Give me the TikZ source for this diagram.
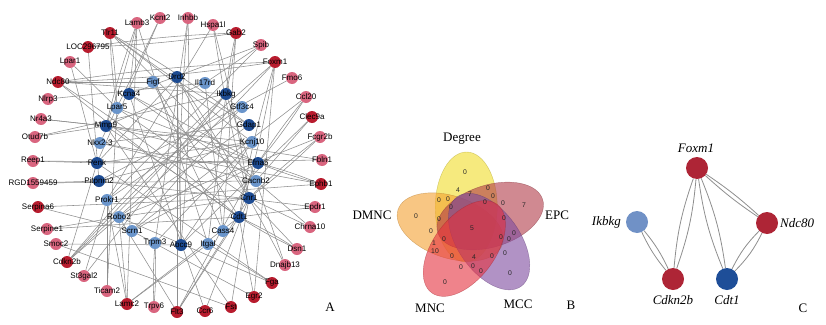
\documentclass[tikz,border=0pt]{standalone}
\usepackage{fontspec}
\setmainfont{Liberation Serif}
\newfontfamily\arialf{Liberation Sans}
\usetikzlibrary{backgrounds}
\definecolor{dred}{HTML}{B81C2E}
\definecolor{pinkn}{HTML}{D9657F}
\definecolor{dblue}{HTML}{1D4B92}
\definecolor{lblue}{HTML}{6A95CB}
\definecolor{edgegray}{HTML}{8E8E8E}
\definecolor{vyel}{HTML}{F0DC28}
\definecolor{vora}{HTML}{F4A030}
\definecolor{vepc}{HTML}{B03A48}
\definecolor{vmcc}{HTML}{7D4A9E}
\definecolor{vmnc}{HTML}{E5313E}
\definecolor{cred}{HTML}{AE2536}
\definecolor{cdblue}{HTML}{1E4E98}
\definecolor{clblue}{HTML}{7091C6}
\tikzset{
  edge/.style={draw=edgegray, line width=0.55pt},
  nd/.style={circle, inner sep=0pt, minimum size=12pt, draw=none},
  dr/.style={nd, fill=dred},
  pk/.style={nd, fill=pinkn},
  db/.style={nd, fill=dblue},
  lb/.style={nd, fill=lblue},
  lab/.style={font=\arialf\fontsize{8}{9}\selectfont, inner sep=0pt, text=black},
  vset/.style={fill opacity=0.6, draw opacity=0.5, line width=0.4pt},
  vnum/.style={font=\arialf\fontsize{6.8}{7}\selectfont, inner sep=0pt, text=black!85},
  vlab/.style={font=\fontsize{13}{15}\selectfont, inner sep=0pt},
  panel/.style={font=\fontsize{13}{15}\selectfont, inner sep=0pt},
  cn/.style={circle, inner sep=0pt, minimum size=22pt, draw=none},
  cedge/.style={draw=edgegray, line width=0.8pt},
  clab/.style={font=\itshape\fontsize{13}{15}\selectfont, inner sep=0pt}
}
\newcommand\gnode[5]{\node[#4] (#1) at (#2,#3) {}; \node[lab] (#1t) at (#1) {#5};}
\newcommand\aedge[2]{\draw[edge] (#1) -- (#2);}
\newcommand\dedge[2]{\draw[edge] (#1) to[bend left=3] (#2); \draw[edge] (#1) to[bend right=3] (#2);}
\newcommand\cpair[3]{\draw[cedge] (#1) to[bend left=#3] (#2); \draw[cedge] (#1) to[bend right=#3] (#2);}
\begin{document}
\begin{tikzpicture}[x=1pt,y=-1pt]
\useasboundingbox (0,0) rectangle (826,324);
% ---------------- Panel A: outer ring ----------------
\gnode{Tlr11}{110}{33}{dr}{Tlr11}
\gnode{Lamb3}{137}{23}{pk}{Lamb3}
\gnode{Kcnt2}{160}{18}{pk}{Kcnt2}
\gnode{Inhbb}{188}{18}{pk}{Inhbb}
\gnode{Hspa1l}{213}{25}{pk}{Hspa1l}
\gnode{Gab2}{236}{33}{dr}{Gab2}
\gnode{Spib}{261}{45}{pk}{Spib}
\gnode{Foxm1}{275}{62}{dr}{Foxm1}
\gnode{Fmo6}{292}{78}{pk}{Fmo6}
\gnode{Ccl20}{306}{97}{pk}{Ccl20}
\gnode{Clec9a}{312}{117}{dr}{Clec9a}
\gnode{Fcgr2b}{320}{137}{pk}{Fcgr2b}
\gnode{Fbln1}{322}{160}{pk}{Fbln1}
\gnode{Ephb1}{321}{184}{dr}{Ephb1}
\gnode{Epdr1}{315}{207}{pk}{Epdr1}
\gnode{Chrna10}{310}{227}{pk}{Chrna10}
\gnode{Dsn1}{297}{249}{pk}{Dsn1}
\gnode{Dnajb13}{285}{265}{pk}{Dnajb13}
\gnode{Fga}{272}{283}{dr}{Fga}
\gnode{Egr2}{254}{297}{dr}{Egr2}
\gnode{Fst}{231}{307}{dr}{Fst}
\gnode{Ccr6}{205}{311}{dr}{Ccr6}
\gnode{Flt3}{177}{312}{dr}{Flt3}
\gnode{Trpv6}{154}{307}{pk}{Trpv6}
\gnode{Lamc2}{127}{304}{dr}{Lamc2}
\gnode{Ticam2}{107}{291}{pk}{Ticam2}
\gnode{St3gal2}{84}{276}{pk}{St3gal2}
\gnode{Cdkn2b}{67}{262}{dr}{Cdkn2b}
\gnode{Smoc2}{56}{244}{pk}{Smoc2}
\gnode{Serpine1}{47}{229}{pk}{Serpine1}
\gnode{Serpina6}{38}{207}{dr}{Serpina6}
\gnode{RGD}{33}{183}{pk}{RGD1559459}
\gnode{Reep1}{33}{161}{pk}{Reep1}
\gnode{Otud7b}{35}{137}{pk}{Otud7b}
\gnode{Nr4a3}{41}{119}{pk}{Nr4a3}
\gnode{Nlrp3}{48}{99}{pk}{Nlrp3}
\gnode{Ndc80}{58}{82}{dr}{Ndc80}
\gnode{Lpar1}{70}{62}{pk}{Lpar1}
\gnode{LOC}{88}{47}{dr}{LOC296795}
% ---------------- Panel A: inner ring ----------------
\gnode{Figf}{153}{82}{lb}{Figf}
\gnode{Drd2}{177}{77}{db}{Drd2}
\gnode{Il17rd}{205}{83}{lb}{Il17rd}
\gnode{Ikbkg}{226}{94}{db}{Ikbkg}
\gnode{Gtf3c4}{242}{107}{lb}{Gtf3c4}
\gnode{Gdap1}{249}{125}{db}{Gdap1}
\gnode{Kcnj10}{252}{142}{lb}{Kcnj10}
\gnode{Efna5}{258}{163}{db}{Efna5}
\gnode{Cacnb2}{256}{181}{lb}{Cacnb2}
\gnode{Cnr1}{249}{198}{db}{Cnr1}
\gnode{Cdt1}{239}{217}{db}{Cdt1}
\gnode{Cass4}{223}{231}{lb}{Cass4}
\gnode{Itgal}{208}{244}{lb}{Itgal}
\gnode{Abcc9}{181}{245}{db}{Abcc9}
\gnode{Trpm3}{155}{243}{lb}{Trpm3}
\gnode{Scrn1}{132}{231}{lb}{Scrn1}
\gnode{Robo2}{119}{217}{lb}{Robo2}
\gnode{Prokr1}{107}{200}{lb}{Prokr1}
\gnode{Pitpnm2}{99}{181}{db}{Pitpnm2}
\gnode{Penk}{97}{163}{db}{Penk}
\gnode{Nkx23}{100}{143}{lb}{Nkx2-3}
\gnode{Mmp9}{106}{126}{db}{Mmp9}
\gnode{Lpar5}{117}{108}{lb}{Lpar5}
\gnode{Kcna4}{129}{94}{db}{Kcna4}
% ---------------- Panel A: edges ----------------
\begin{scope}[on background layer]
\dedge{Tlr11}{Lpar5} \dedge{Tlr11}{Gdap1} \aedge{Tlr11}{Kcnj10} \aedge{Tlr11}{Cacnb2}
\aedge{Lamb3}{Kcna4} \dedge{Lamb3}{Mmp9} \aedge{Lamb3}{Itgal} \aedge{Lamb3}{Lamc2}
\aedge{Kcnt2}{Nkx23} \aedge{Kcnt2}{Penk}
\dedge{Inhbb}{Abcc9} \aedge{Inhbb}{Trpm3}
\dedge{Hspa1l}{Cnr1} \aedge{Hspa1l}{Prokr1}
\dedge{Gab2}{Ikbkg} \aedge{Gab2}{Cass4} \dedge{LOC}{Gab2}
\aedge{Spib}{Kcna4} \aedge{Spib}{Prokr1} \aedge{Spib}{Il17rd}
\dedge{Foxm1}{Ndc80} \dedge{Foxm1}{Cdkn2b} \dedge{Foxm1}{Cdt1} \aedge{Foxm1}{Egr2}
\aedge{Fmo6}{Pitpnm2} \dedge{Ccl20}{Efna5} \aedge{Ccl20}{Scrn1}
\aedge{Clec9a}{Abcc9} \aedge{Clec9a}{Cacnb2}
\dedge{Fcgr2b}{Cnr1} \aedge{Fcgr2b}{Robo2}
\aedge{Fbln1}{Penk} \aedge{Fbln1}{Mmp9}
\dedge{Ephb1}{Efna5} \aedge{Ephb1}{Nkx23} \aedge{Ephb1}{Prokr1}
\aedge{Epdr1}{Cdt1} \aedge{Epdr1}{Pitpnm2}
\aedge{Chrna10}{Cnr1} \aedge{Chrna10}{Cacnb2}
\dedge{Dsn1}{Cdt1} \aedge{Dsn1}{Cnr1}
\aedge{Dnajb13}{Cnr1} \aedge{Dnajb13}{Ikbkg}
\aedge{Fga}{Itgal} \aedge{Fga}{Robo2} \aedge{Fga}{Penk}
\aedge{Egr2}{Cdt1} \aedge{Egr2}{Scrn1}
\aedge{Fst}{Mmp9} \aedge{Fst}{Cnr1} \aedge{Fst}{Smoc2}
\aedge{Ccr6}{Cnr1} \aedge{Ccr6}{Kcna4}
\aedge{Flt3}{Cdt1} \aedge{Flt3}{Cnr1} \aedge{Flt3}{Robo2} \aedge{Flt3}{Efna5} \aedge{Flt3}{Drd2}
\dedge{Trpv6}{Trpm3}
\aedge{Lamc2}{Robo2} \aedge{Lamc2}{Cdt1} \aedge{Lamc2}{Itgal} \aedge{Lamc2}{Prokr1}
\aedge{Ticam2}{Prokr1} \aedge{Ticam2}{Lpar5}
\aedge{St3gal2}{Prokr1} \aedge{St3gal2}{Ikbkg}
\dedge{Cdkn2b}{Ikbkg} \aedge{Cdkn2b}{Penk}
\aedge{Smoc2}{Abcc9}
\aedge{Serpine1}{Robo2} \aedge{Serpine1}{Cdt1}
\aedge{Serpina6}{Cnr1} \aedge{Serpina6}{Scrn1}
\aedge{RGD}{Pitpnm2} \aedge{RGD}{Cacnb2}
\aedge{Reep1}{Penk} \aedge{Reep1}{Efna5}
\aedge{Otud7b}{Mmp9} \aedge{Otud7b}{Ikbkg}
\aedge{Nr4a3}{Mmp9} \aedge{Nr4a3}{Kcnj10}
\aedge{Nlrp3}{Il17rd}
\aedge{Ndc80}{Figf} \dedge{Ndc80}{Cdt1} \aedge{Ndc80}{Ikbkg}
\aedge{Lpar1}{Penk} \aedge{Lpar1}{Lpar5}
\aedge{LOC}{Pitpnm2}
\dedge{Drd2}{Cnr1} \aedge{Drd2}{Penk} \aedge{Drd2}{Abcc9}
\aedge{Kcna4}{Cacnb2} \aedge{Kcna4}{Efna5}
\aedge{Il17rd}{Cass4} \aedge{Il17rd}{Mmp9}
\aedge{Gtf3c4}{Prokr1} \aedge{Gtf3c4}{Scrn1}
\aedge{Gdap1}{Nkx23} \aedge{Gdap1}{Robo2}
\aedge{Kcnj10}{Penk} \aedge{Kcnj10}{Trpm3}
\aedge{Mmp9}{Cdt1} \aedge{Mmp9}{Efna5}
\aedge{Figf}{Cass4} \aedge{Figf}{Cdt1}
\aedge{Nkx23}{Cacnb2} \aedge{Pitpnm2}{Kcnj10}
\aedge{Lpar5}{Cnr1} \aedge{Lpar5}{Efna5}
\aedge{Robo2}{Cnr1} \aedge{Scrn1}{Efna5}
\aedge{Abcc9}{Kcnj10} \aedge{Itgal}{Ikbkg}
\end{scope}
\node[panel] (labA) at (330,307) {A};
% ---------------- Panel B: Venn ----------------
\fill[vset, fill=vyel, draw=vyel!70!black, rotate around={89.5:(466.2,207.0)}] (466.2,207.0) ellipse [x radius=55, y radius=31];
\fill[vset, fill=vora, draw=vora!70!black, rotate around={161.5:(450.2,227.0)}] (450.2,227.0) ellipse [x radius=55, y radius=31];
\fill[vset, fill=vepc, draw=vepc!70!black, rotate around={17.5:(490.2,216.0)}] (490.2,216.0) ellipse [x radius=55, y radius=31];
\fill[vset, fill=vmcc, draw=vmcc!70!black, rotate around={305.5:(489.1,241.6)}] (489.1,241.6) ellipse [x radius=55, y radius=31];
\fill[vset, fill=vmnc, draw=vmnc!70!black, rotate around={233.5:(464.3,248.5)}] (464.3,248.5) ellipse [x radius=55, y radius=31];
\foreach \x/\y/\t [count=\i] in {465/172/0, 458/190/4, 488/188/0, 470/194/7, 493/196/0, 439/200/0, 448/199/0, 451/207/0, 485/202/0, 503/203/0, 524/205/7, 416/216/0, 439/219/0, 504/218/0, 431/231/0, 472/228/5, 514/233/0, 501/237/0, 444/239/0, 509/239/0, 434/243/1, 435/251/10, 452/256/0, 505/253/0, 474/257/4, 492/256/0, 461/267/0, 473/266/0, 481/271/0, 510/273/0, 445/282/0}
  \node[vnum] (v\i) at (\x,\y) {\t};
\node[vlab] (lDeg) at (462,139) {Degree};
\node[vlab] (lDMNC) at (372,215) {DMNC};
\node[vlab] (lEPC) at (557,215) {EPC};
\node[vlab] (lMNC) at (430,308) {MNC};
\node[vlab] (lMCC) at (518,304) {MCC};
\node[panel] (labB) at (571,305) {B};
% ---------------- Panel C ----------------
\node[cn, fill=cred] (cFoxm1) at (697,168) {};
\node[cn, fill=cred] (cNdc80) at (767,223) {};
\node[cn, fill=cred] (cCdkn2b) at (673,279) {};
\node[cn, fill=cdblue] (cCdt1) at (727,279) {};
\node[cn, fill=clblue] (cIkbkg) at (637,222) {};
\begin{scope}[on background layer]
\cpair{cFoxm1}{cNdc80}{4}
\cpair{cFoxm1}{cCdkn2b}{7}
\cpair{cFoxm1}{cCdt1}{7}
\cpair{cNdc80}{cCdt1}{9}
\cpair{cIkbkg}{cCdkn2b}{7}
\end{scope}
\node[clab] (tFoxm1) at (696,148) {Foxm1};
\node[clab, anchor=west] (tNdc80) at (780,223) {Ndc80};
\node[clab] (tCdkn2b) at (673,300) {Cdkn2b};
\node[clab] (tCdt1) at (727,300) {Cdt1};
\node[clab, anchor=east] (tIkbkg) at (621,222) {Ikbkg};
\node[panel] (labC) at (803,308) {C};
\end{tikzpicture}
\end{document}
